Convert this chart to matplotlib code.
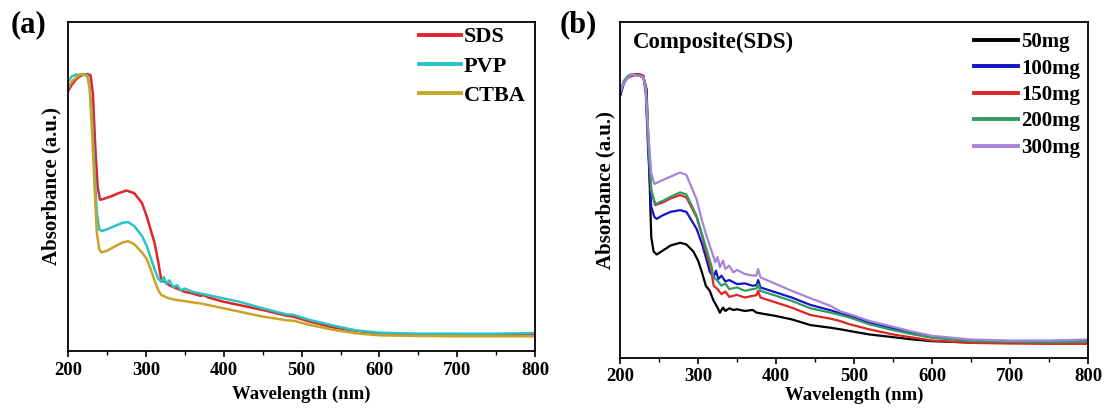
import matplotlib
matplotlib.use("Agg")
import matplotlib.pyplot as plt
from matplotlib.ticker import MultipleLocator

plt.rcParams['font.family'] = ['Liberation Serif', 'DejaVu Serif']
plt.rcParams['font.weight'] = 'bold'

# ---- panel (a): surfactants ----
sds_wl = [200, 205, 210, 215, 220, 225, 229, 232, 235, 238, 241, 245, 255, 265, 275, 285, 295, 301, 306, 311,
          316, 318, 320, 325, 330, 335, 340, 350, 360, 370, 375, 380, 400, 420, 450, 480, 490, 510, 540, 575,
          600, 650, 700, 750, 800]
sds_abs = [0.79, 0.81, 0.825, 0.835, 0.84, 0.842, 0.838, 0.78, 0.62, 0.50, 0.46, 0.462, 0.47, 0.48, 0.488, 0.48,
           0.45, 0.41, 0.37, 0.33, 0.27, 0.24, 0.215, 0.21, 0.2, 0.195, 0.19, 0.18, 0.175, 0.168, 0.17, 0.163,
           0.15, 0.14, 0.125, 0.108, 0.104, 0.09, 0.072, 0.06, 0.053, 0.05, 0.05, 0.05, 0.05]

pvp_wl = [200, 205, 210, 215, 220, 225, 228, 231, 234, 237, 240, 243, 250, 260, 270, 277, 285, 295, 301, 306,
          311, 316, 320, 323, 326, 330, 335, 340, 345, 350, 360, 370, 380, 400, 420, 450, 480, 490, 510, 540,
          570, 600, 650, 700, 750, 800]
pvp_abs = [0.82, 0.835, 0.84, 0.84, 0.842, 0.838, 0.8, 0.7, 0.55, 0.42, 0.37, 0.365, 0.37, 0.38, 0.39, 0.392,
           0.38, 0.35, 0.32, 0.285, 0.25, 0.22, 0.21, 0.225, 0.205, 0.215, 0.195, 0.2, 0.185, 0.19, 0.18, 0.175,
           0.17, 0.16, 0.15, 0.13, 0.112, 0.11, 0.095, 0.078, 0.063, 0.056, 0.053, 0.053, 0.053, 0.055]

ctba_wl = [200, 205, 210, 215, 220, 225, 228, 231, 234, 237, 240, 243, 250, 260, 270, 277, 285, 295, 301, 306,
           311, 316, 320, 325, 330, 340, 350, 360, 370, 380, 400, 420, 450, 480, 490, 510, 540, 570, 600, 650,
           700, 750, 800]
ctba_abs = [0.80, 0.82, 0.83, 0.84, 0.84, 0.835, 0.79, 0.66, 0.5, 0.36, 0.31, 0.30, 0.305, 0.318, 0.33, 0.334,
            0.325, 0.30, 0.28, 0.25, 0.215, 0.185, 0.17, 0.165, 0.16, 0.155, 0.152, 0.148, 0.145, 0.14, 0.13,
            0.12, 0.105, 0.094, 0.092, 0.08, 0.065, 0.054, 0.048, 0.046, 0.045, 0.045, 0.045]

# ---- panel (b): Composite(SDS) loadings ----
m50_wl = [200, 205, 210, 215, 220, 225, 230, 234, 237, 240, 243, 247, 255, 265, 277, 285, 294, 300, 305, 310,
          315, 320, 325, 328, 332, 335, 340, 345, 350, 360, 370, 375, 380, 400, 420, 444, 470, 486, 500, 520,
          550, 572, 600, 650, 700, 750, 800]
m50_abs = [0.78, 0.82, 0.835, 0.84, 0.843, 0.84, 0.835, 0.8, 0.6, 0.36, 0.317, 0.308, 0.32, 0.335, 0.343, 0.338,
           0.317, 0.29, 0.255, 0.215, 0.2, 0.17, 0.15, 0.135, 0.15, 0.14, 0.148, 0.143, 0.145, 0.14, 0.143,
           0.135, 0.133, 0.125, 0.115, 0.098, 0.09, 0.084, 0.078, 0.07, 0.062, 0.056, 0.05, 0.046, 0.045,
           0.045, 0.045]

m100_wl = [200, 205, 210, 215, 220, 225, 230, 233, 236, 240, 244, 247, 255, 265, 277, 285, 298, 305, 310, 315,
           320, 323, 326, 330, 335, 340, 350, 360, 370, 375, 377, 380, 400, 420, 444, 470, 482, 495, 520, 550,
           572, 600, 650, 700, 750, 800]
m100_abs = [0.78, 0.82, 0.835, 0.845, 0.843, 0.84, 0.835, 0.79, 0.62, 0.45, 0.42, 0.414, 0.425, 0.435, 0.44,
            0.435, 0.385, 0.34, 0.3, 0.257, 0.24, 0.26, 0.235, 0.245, 0.228, 0.232, 0.22, 0.222, 0.215, 0.217,
            0.232, 0.21, 0.195, 0.18, 0.158, 0.142, 0.133, 0.125, 0.105, 0.088, 0.077, 0.063, 0.052, 0.05,
            0.05, 0.052]

m150_wl = [200, 205, 210, 215, 220, 225, 230, 233, 236, 240, 245, 255, 265, 277, 285, 298, 305, 310, 317, 320,
           325, 330, 335, 340, 350, 360, 370, 375, 377, 380, 400, 420, 444, 470, 482, 495, 520, 550, 572, 600,
           650, 700, 750, 800]
m150_abs = [0.79, 0.82, 0.835, 0.84, 0.845, 0.845, 0.84, 0.8, 0.66, 0.5, 0.455, 0.463, 0.475, 0.485, 0.478,
            0.42, 0.365, 0.32, 0.26, 0.215, 0.205, 0.19, 0.198, 0.182, 0.188, 0.18, 0.185, 0.187, 0.2, 0.18,
            0.165, 0.15, 0.128, 0.117, 0.11, 0.1, 0.085, 0.07, 0.062, 0.052, 0.045, 0.043, 0.042, 0.042]

m200_wl = [200, 205, 210, 215, 220, 225, 230, 233, 236, 240, 245, 255, 265, 277, 285, 298, 305, 310, 317, 320,
           325, 330, 335, 340, 350, 360, 370, 375, 377, 380, 400, 420, 444, 470, 482, 495, 520, 550, 572, 600,
           650, 700, 750, 800]
m200_abs = [0.79, 0.825, 0.84, 0.845, 0.842, 0.84, 0.835, 0.8, 0.65, 0.5, 0.458, 0.468, 0.48, 0.493, 0.487,
            0.424, 0.37, 0.33, 0.276, 0.24, 0.23, 0.215, 0.222, 0.205, 0.21, 0.2, 0.205, 0.207, 0.22, 0.2, 0.185,
            0.17, 0.148, 0.135, 0.128, 0.12, 0.1, 0.083, 0.072, 0.06, 0.05, 0.048, 0.047, 0.048]

m300_wl = [200, 205, 210, 215, 220, 225, 230, 233, 236, 240, 244, 255, 265, 277, 285, 298, 305, 310, 319, 322,
           325, 328, 332, 335, 340, 345, 350, 360, 370, 375, 377, 380, 400, 420, 444, 470, 482, 495, 520, 550,
           572, 600, 650, 700, 750, 800]
m300_abs = [0.79, 0.82, 0.835, 0.845, 0.84, 0.84, 0.835, 0.8, 0.68, 0.55, 0.518, 0.53, 0.54, 0.552, 0.545,
            0.473, 0.41, 0.37, 0.306, 0.285, 0.3, 0.27, 0.29, 0.265, 0.275, 0.255, 0.262, 0.25, 0.245, 0.246,
            0.265, 0.24, 0.22, 0.2, 0.178, 0.155, 0.139, 0.13, 0.11, 0.093, 0.08, 0.066, 0.055, 0.052, 0.052,
            0.055]

fig = plt.figure(figsize=(11.08, 4.19), dpi=100)
ax1 = fig.add_axes([0.0614, 0.162, 0.4216, 0.7855])
ax2 = fig.add_axes([0.5596, 0.1456, 0.4224, 0.8019])

ax1.plot(sds_wl, sds_abs, color='#e0242b', lw=1.8, label='SDS')
ax1.plot(pvp_wl, pvp_abs, color='#28c4c4', lw=1.8, label='PVP')
ax1.plot(ctba_wl, ctba_abs, color='#c9a228', lw=1.8, label='CTBA')

ax2.plot(m50_wl, m50_abs, color='black', lw=1.6, label='50mg')
ax2.plot(m100_wl, m100_abs, color='#1414c8', lw=1.6, label='100mg')
ax2.plot(m150_wl, m150_abs, color='#e02424', lw=1.6, label='150mg')
ax2.plot(m200_wl, m200_abs, color='#2e9e60', lw=1.6, label='200mg')
ax2.plot(m300_wl, m300_abs, color='#a883d8', lw=1.6, label='300mg')

for ax in (ax1, ax2):
    ax.set_xlim(200, 800)
    ax.set_ylim(0, 1)
    ax.set_yticks([])
    ax.xaxis.set_major_locator(MultipleLocator(100))
    ax.xaxis.set_minor_locator(MultipleLocator(50))
    ax.tick_params(axis='x', which='major', direction='out', length=4, width=1.2, labelsize=13.5)
    ax.tick_params(axis='x', which='minor', direction='out', length=3, width=1.0)
    for sp in ax.spines.values():
        sp.set_linewidth(1.3)
    for lab in ax.get_xticklabels():
        lab.set_fontweight('bold')
    ax.set_xlabel('Wavelength (nm)', fontsize=13.5, fontweight='bold')
    ax.set_ylabel('Absorbance (a.u.)', fontsize=15, fontweight='bold')

ax1.xaxis.labelpad = 5
ax2.xaxis.labelpad = 1
ax1.yaxis.labelpad = 5
ax2.yaxis.labelpad = 3

leg1 = ax1.legend(loc='upper right', bbox_to_anchor=(0.979, 0.985), frameon=False, handlelength=1.85,
                  handletextpad=0.13, labelspacing=0.39, borderpad=0, borderaxespad=0,
                  prop={'weight': 'bold', 'size': 16})
leg2 = ax2.legend(loc='upper right', bbox_to_anchor=(0.983, 0.97), frameon=False, handlelength=2.1,
                  handletextpad=0.15, labelspacing=0.31, borderpad=0, borderaxespad=0,
                  prop={'weight': 'bold', 'size': 15})
for leg in (leg1, leg2):
    for ln in leg.get_lines():
        ln.set_linewidth(2.8)

ax2.text(0.027, 0.94, 'Composite(SDS)', transform=ax2.transAxes, fontsize=16.5, fontweight='bold',
         va='center', ha='left')

fig.text(0.010, 0.94, '(a)', fontsize=22, fontweight='bold', va='center', ha='left')
fig.text(0.505, 0.94, '(b)', fontsize=22, fontweight='bold', va='center', ha='left')

fig.savefig('out.png', dpi=100)
